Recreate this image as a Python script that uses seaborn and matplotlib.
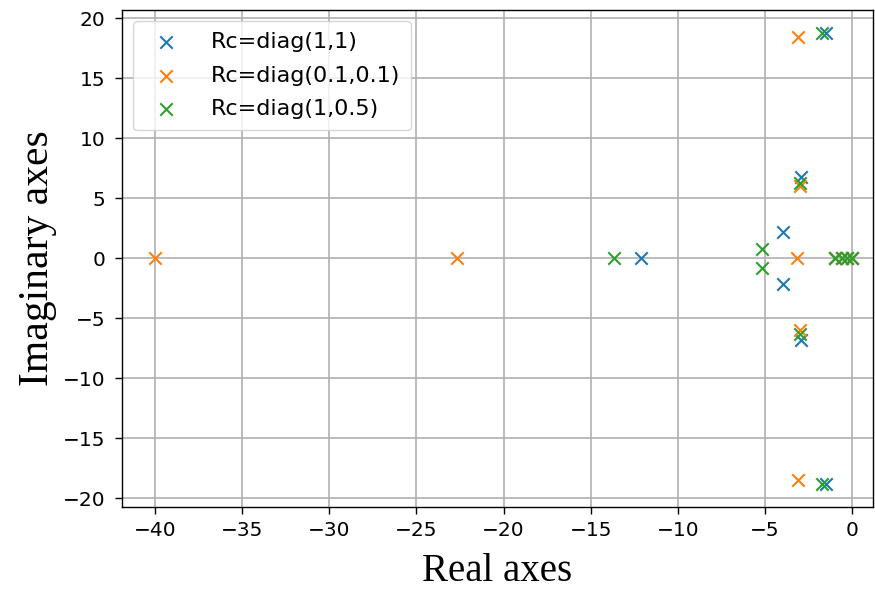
import matplotlib
matplotlib.use("Agg")
import matplotlib.pyplot as plt
import seaborn as sns
import pandas as pd

# Closed-loop poles for three choices of the weighting matrix Rc
labels = ["Rc=diag(1,1)", "Rc=diag(0.1,0.1)", "Rc=diag(1,0.5)"]

re_rc1 = [-12.1, -3.95, -3.95, -2.95, -2.95, -1.5, -1.5, -1.0, -0.6, -0.3, 0.0]
im_rc1 = [0.0, 2.15, -2.15, 6.8, -6.8, 18.8, -18.8, 0.0, 0.0, 0.0, 0.0]

re_rc2 = [-40.0, -22.7, -3.15, -3.0, -3.0, -3.1, -3.1, -1.0, -0.6, -0.3, 0.0]
im_rc2 = [0.0, 0.0, 0.0, 6.0, -6.0, 18.45, -18.45, 0.0, 0.0, 0.0, 0.0]

re_rc3 = [-13.65, -5.15, -5.15, -3.0, -3.0, -1.75, -1.75, -1.0, -0.6, -0.3, 0.0]
im_rc3 = [0.0, 0.8, -0.8, 6.3, -6.3, 18.8, -18.8, 0.0, 0.0, 0.0, 0.0]

xticks = [-40, -35, -30, -25, -20, -15, -10, -5, 0]
yticks = [-20, -15, -10, -5, 0, 5, 10, 15, 20]

series = [(re_rc1, im_rc1), (re_rc2, im_rc2), (re_rc3, im_rc3)]

sns.set_style("ticks")
plt.rcParams["font.family"] = ["DejaVu Sans"]
plt.rcParams["text.color"] = "black"
plt.rcParams["xtick.color"] = "black"
plt.rcParams["ytick.color"] = "black"
plt.rcParams["axes.labelcolor"] = "black"

fig, ax = plt.subplots(figsize=(8.75, 5.89), dpi=100)
colors = sns.color_palette("tab10", 3)

for (re, im), lab, col in zip(series, labels, colors):
    df = pd.DataFrame({"re": re, "im": im})
    sns.scatterplot(data=df, x="re", y="im", marker="x", s=80, color=col,
                    linewidth=1.5, label=lab, ax=ax, zorder=3)

ax.grid(True, color="#b0b0b0", linewidth=1.2)
ax.set_axisbelow(True)
for sp in ax.spines.values():
    sp.set_color("black")
    sp.set_linewidth(1.0)

ax.set_xlim(-41.9, 1.2)
ax.set_ylim(-20.75, 20.7)
ax.set_xticks(xticks)
ax.set_yticks(yticks)
ax.tick_params(axis="both", labelsize=14.5, direction="out", length=5, width=1,
               color="black", labelcolor="black")
ax.tick_params(axis="y", pad=7)
ax.tick_params(axis="x", pad=5)

ax.set_xlabel("Real axes", fontsize=28, family="Liberation Serif", labelpad=9)
ax.set_ylabel("Imaginary axes", fontsize=30, family="Liberation Serif", labelpad=4)

leg = ax.legend(loc="upper left", fontsize=16, frameon=True, borderpad=0.5,
                handletextpad=1.0, labelspacing=0.6, borderaxespad=0.5)
leg.get_frame().set_edgecolor("#cccccc")

fig.subplots_adjust(left=0.1394, right=0.9977, top=0.983, bottom=0.139)
fig.savefig("out.png", dpi=100)
